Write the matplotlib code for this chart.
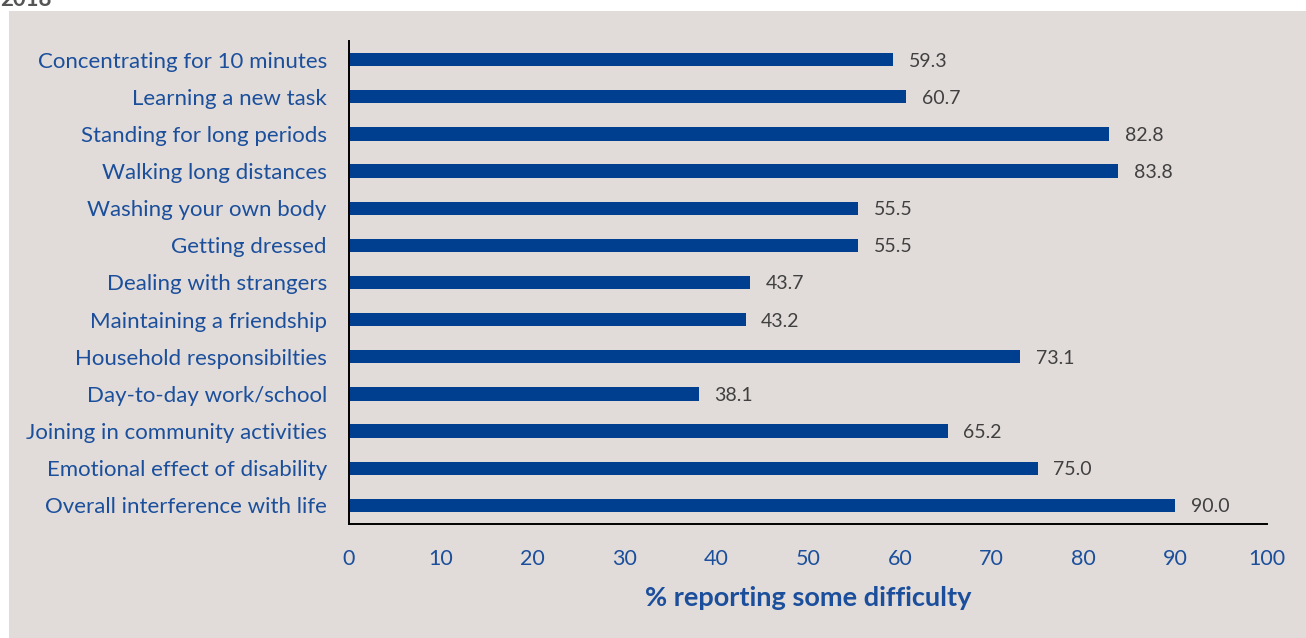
import matplotlib.pyplot as plt
from matplotlib.patches import Rectangle

categorias = [
    "Concentrating for 10 minutes",
    "Learning a new task",
    "Standing for long periods",
    "Walking long distances",
    "Washing your own body",
    "Getting dressed",
    "Dealing with strangers",
    "Maintaining a friendship",
    "Household responsibilties",
    "Day-to-day work/school",
    "Joining in community activities",
    "Emotional effect of disability",
    "Overall interference with life",
]
valores = [59.3, 60.7, 82.8, 83.8, 55.5, 55.5, 43.7, 43.2, 73.1, 38.1, 65.2, 75.0, 90.0]
ticks_x = [0, 10, 20, 30, 40, 50, 60, 70, 80, 90, 100]

azul_barra = "#003f8f"
azul_texto = "#1b4f9c"
fondo = "#e1dcda"

plt.rcParams['font.family'] = ['Lato', 'DejaVu Sans']

fig = plt.figure(figsize=(13.06, 6.38), dpi=100)
fig.patch.set_facecolor("white")
# panel gris detrás del gráfico
fig.patches.append(Rectangle((9 / 1306, 0), 1 - 9 / 1306, 1 - 11 / 638,
                             transform=fig.transFigure, facecolor=fondo,
                             edgecolor="none", zorder=-10))
fig.text(0.0, 1.0, "2018", color="#555555", fontsize=16, fontweight="bold",
         ha="left", va="center")

ax = fig.add_axes([349 / 1306, 1 - 524 / 638, (1267 - 349) / 1306, (524 - 41) / 638])
ax.set_facecolor("none")

pos = list(range(len(categorias)))
ax.barh(pos, valores, height=0.36, color=azul_barra)
for p, v in zip(pos, valores):
    ax.text(v + 1.7, p, f"{v:.1f}", va="center_baseline", ha="left", fontsize=14,
            color="#404040")

ax.set_ylim(len(categorias) - 0.5, -0.5)
ax.set_xlim(0, 100)
ax.set_yticks(pos)
ax.set_yticklabels(categorias, fontsize=16, color=azul_texto)
ax.set_xticks(ticks_x)
ax.set_xticklabels([str(t) for t in ticks_x], fontsize=15.5, color=azul_texto)
ax.tick_params(axis="both", length=0)
ax.tick_params(axis="y", pad=16)
ax.tick_params(axis="x", pad=18)

for s in ["top", "right"]:
    ax.spines[s].set_visible(False)
for s in ["left", "bottom"]:
    ax.spines[s].set_linewidth(1.4)
    ax.spines[s].set_color("black")

ax.set_xlabel("% reporting some difficulty", fontsize=19.5, fontweight="bold",
              color=azul_texto, labelpad=12)

fig.savefig("out.png", dpi=100, facecolor=fig.get_facecolor())
